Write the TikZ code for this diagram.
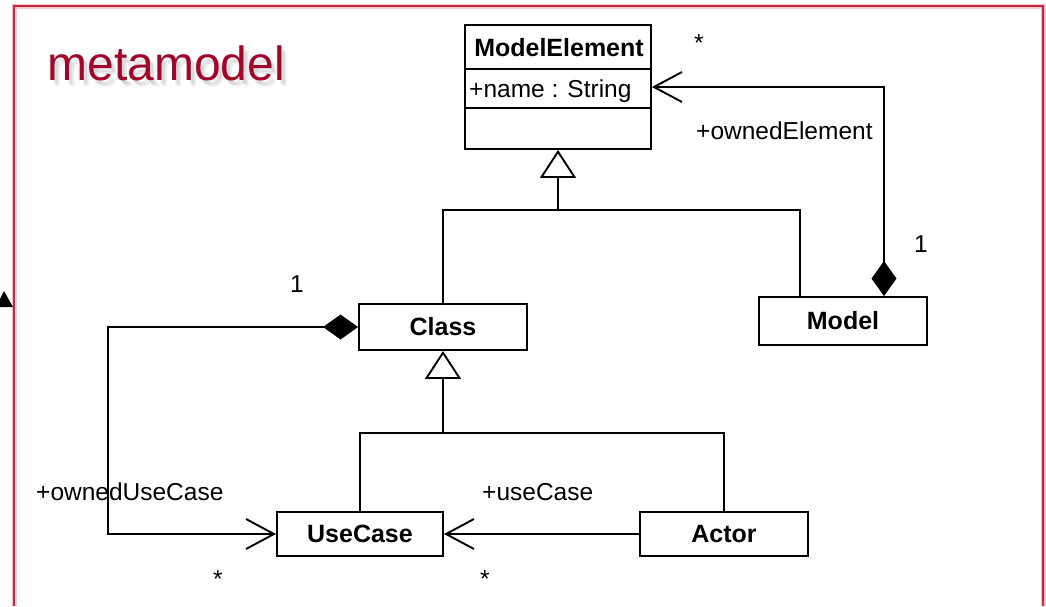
\documentclass[tikz,border=0pt]{standalone}
\usepackage{fontspec}
\setmainfont{Liberation Sans}
\usetikzlibrary{arrows.meta}
\definecolor{framered}{HTML}{C8243E}
\definecolor{titlered}{HTML}{A0062A}

\begin{document}
\begin{tikzpicture}[x=1pt,y=-1pt,
  cls/.style={draw,line width=1.9pt,inner sep=0pt,
    font=\fontsize{25}{25}\selectfont\bfseries},
  lbl/.style={inner sep=0pt,font=\fontsize{24.5}{24.5}\selectfont},
  conn/.style={line width=1.9pt},
  gen/.style={conn,-{Triangle[open,length=28pt,width=36pt,fill=white,line width=1.9pt]}},
  comp/.style={conn,{Diamond[length=35pt,width=25pt]}-{Straight Barb[length=28pt,width=30pt,line width=1.9pt]}},
  assoc/.style={conn,-{Straight Barb[length=28pt,width=30pt,line width=1.9pt]}}]

\useasboundingbox (0,0) rectangle (1046,606);
\fill[white] (0,0) rectangle (1046,606);

% frame
\draw[framered!25,line width=5pt] (14,606) -- (14,6) -- (1043,6) -- (1043,606);
\draw[framered,line width=2.4pt] (14,606) -- (14,6) -- (1043,6) -- (1043,606);

% arrowhead fragment at the left edge
\fill (-4,307) -- (4,291) -- (13,307) -- cycle;

% title with soft shadow
\foreach \dx/\dy in {3/4,5/6}
  \node[anchor=base west,text=black,opacity=0.08,font=\fontsize{48}{48}\selectfont]
    at (44+\dx,80+\dy) {metamodel};
\node[anchor=base west,text=titlered,font=\fontsize{48}{48}\selectfont]
  (title) at (44,80) {metamodel};

% classes
\node[cls,minimum width=186pt,minimum height=124pt] (ME) at (558,87) {};
\draw[conn] (ME.north west) ++(0,45) -- ++(186,0);
\draw[conn] (ME.north west) ++(0,84) -- ++(186,0);
\node[inner sep=0pt,font=\fontsize{25}{25}\selectfont\bfseries,anchor=base]
  (MEname) at (559,56) {ModelElement};
\node[lbl,anchor=base west] (MEattr) at (469,97) {+name : String};

\node[cls,minimum width=168pt,minimum height=46pt] (Class) at (443,327) {Class};
\node[cls,minimum width=168pt,minimum height=48pt] (Model) at (843,321) {Model};
\node[cls,minimum width=166pt,minimum height=44pt] (UseCase) at (360,534) {UseCase};
\node[cls,minimum width=168pt,minimum height=44pt] (Actor) at (724,534) {Actor};

% junction points
\coordinate (j1) at (558,210);
\coordinate (j2) at (443,433);
\coordinate (mx) at (800,0);
\coordinate (cx) at (884,0);
\coordinate (lx) at (108,0);

% generalizations
\draw[gen] (Class.north) |- (j1) -- (ME.south);
\draw[conn] (Model.north -| mx) |- (j1);
\draw[gen] (UseCase.north) |- (j2) -- (Class.south);
\draw[conn] (Actor.north) |- (j2);

% associations
\draw[comp] (Model.north -| cx) |- (ME.east);
\draw[comp] (Class.west) -- (Class.west -| lx) |- (UseCase.west);
\draw[assoc] (Actor.west) -- (UseCase.east);

% role names and multiplicities
\node[lbl,anchor=base] (m1) at (699,51) {*};
\node[lbl,anchor=base west] (r1) at (696,139) {+ownedElement};
\node[lbl,anchor=base] (m2) at (921,252) {1};
\node[lbl,anchor=base] (m3) at (297,292) {1};
\node[lbl,anchor=base west] (r2) at (36,500) {+ownedUseCase};
\node[lbl,anchor=base west] (r3) at (482,500) {+useCase};
\node[lbl,anchor=base] (m4) at (218,587) {*};
\node[lbl,anchor=base] (m5) at (485,587) {*};
\end{tikzpicture}
\end{document}
